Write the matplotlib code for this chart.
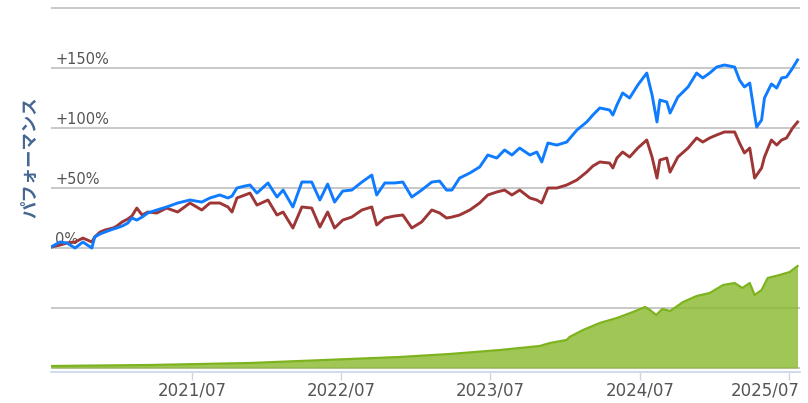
import matplotlib
matplotlib.use("Agg")
import matplotlib.pyplot as plt
import matplotlib.dates as mdates
import matplotlib.transforms as mtransforms
import pandas as pd

# dates / performance (%)
dates = [
    "2020-07-21", "2020-08-12", "2020-08-29", "2020-09-18", "2020-10-07", "2020-10-29",
    "2020-11-05", "2020-11-18", "2020-11-30", "2020-12-20", "2020-12-29", "2021-01-11",
    "2021-01-25", "2021-02-04", "2021-02-16", "2021-03-01", "2021-03-15", "2021-04-06",
    "2021-04-30", "2021-05-27", "2021-06-26", "2021-07-25", "2021-08-14", "2021-09-07",
    "2021-09-27", "2021-10-07", "2021-10-19", "2021-11-08", "2021-11-20", "2021-12-07",
    "2022-01-03", "2022-01-25", "2022-02-09", "2022-03-05", "2022-03-27", "2022-04-20",
    "2022-05-10", "2022-05-29", "2022-06-15", "2022-07-05", "2022-07-27", "2022-08-21",
    "2022-09-14", "2022-09-26", "2022-10-16", "2022-11-09", "2022-11-29", "2022-12-21",
    "2023-01-14", "2023-02-08", "2023-02-27", "2023-03-16", "2023-03-29", "2023-04-17",
    "2023-05-12", "2023-06-05", "2023-06-25", "2023-07-17", "2023-08-05", "2023-08-23",
    "2023-09-11", "2023-10-06", "2023-10-23", "2023-11-04", "2023-11-19", "2023-12-11",
    "2024-01-04", "2024-01-29", "2024-02-22", "2024-03-08", "2024-03-25", "2024-04-18",
    "2024-04-26", "2024-05-06", "2024-05-20", "2024-06-06", "2024-06-26", "2024-07-18",
    "2024-07-31", "2024-08-12", "2024-08-19", "2024-09-05", "2024-09-13", "2024-10-02",
    "2024-10-27", "2024-11-17", "2024-12-02", "2024-12-19", "2025-01-05", "2025-01-24",
    "2025-02-18", "2025-03-02", "2025-03-14", "2025-03-27", "2025-04-08", "2025-04-13",
    "2025-04-25", "2025-05-02", "2025-05-19", "2025-06-01", "2025-06-13", "2025-06-25",
    "2025-07-10", "2025-07-22",
]

blue = [
    0.8, 5.0, 4.2, 0.0, 5.0, 0.0,
    9.2, 11.7, 13.3, 15.8, 16.7, 18.3,
    20.8, 25.0, 23.3, 25.8, 29.2, 31.7,
    34.2, 37.5, 40.0, 38.3, 41.7, 44.2,
    41.7, 43.3, 50.0, 51.7, 52.5, 45.8,
    54.2, 42.5, 48.3, 34.2, 55.0, 55.0,
    40.0, 53.3, 38.3, 47.5, 48.3, 55.0,
    60.8, 44.2, 54.2, 54.2, 55.0, 42.5,
    48.3, 55.0, 55.8, 48.3, 48.3, 58.3,
    62.5, 67.5, 77.5, 75.0, 81.7, 77.5,
    83.3, 77.5, 80.0, 71.7, 87.5, 85.8,
    88.3, 98.3, 105.0, 110.8, 116.7, 115.0,
    110.8, 119.2, 129.2, 125.0, 135.8, 145.8,
    127.5, 105.0, 123.3, 121.7, 112.5, 125.8,
    134.2, 145.8, 141.7, 145.8, 150.8, 152.5,
    150.8, 140.0, 134.2, 137.5, 110.8, 100.8,
    106.7, 125.0, 136.7, 133.3, 141.7, 142.5,
    150.0, 156.7,
]

red = [
    0.8, 2.5, 4.2, 5.0, 8.3, 5.0,
    9.2, 13.3, 15.0, 16.7, 18.3, 21.7,
    24.2, 26.7, 33.3, 27.5, 30.0, 29.2,
    33.3, 30.0, 37.5, 31.7, 37.5, 37.5,
    34.2, 30.0, 41.7, 44.2, 45.8, 35.8,
    40.0, 27.5, 30.0, 16.7, 34.2, 33.3,
    17.5, 30.0, 16.7, 23.3, 25.8, 31.7,
    34.2, 19.2, 25.0, 26.7, 27.5, 16.7,
    21.7, 31.7, 29.2, 25.0, 25.8, 27.5,
    31.7, 37.5, 44.2, 46.7, 48.3, 44.2,
    48.3, 41.7, 40.0, 37.5, 50.0, 50.0,
    52.5, 56.7, 63.3, 68.3, 71.7, 70.8,
    66.7, 75.0, 80.0, 75.8, 83.3, 90.0,
    75.8, 58.3, 73.3, 75.0, 63.3, 75.8,
    83.3, 91.7, 88.3, 91.7, 94.2, 96.7,
    96.7, 87.5, 79.2, 83.3, 58.3, 60.8,
    66.7, 75.8, 90.0, 85.8, 90.0, 91.7,
    100.0, 105.0,
]

# green area (separate scale)
area_dates = [
    "2020-07-21", "2021-03-20", "2021-11-20", "2022-03-22", "2022-07-22", "2022-11-21",
    "2023-03-24", "2023-07-25", "2023-10-30", "2023-11-24", "2024-01-04", "2024-01-11",
    "2024-02-13", "2024-03-25", "2024-05-06", "2024-06-14", "2024-07-14", "2024-07-26",
    "2024-08-10", "2024-08-25", "2024-09-13", "2024-10-15", "2024-11-17", "2024-12-19",
    "2025-01-21", "2025-02-18", "2025-03-09", "2025-03-27", "2025-04-08", "2025-04-25",
    "2025-05-10", "2025-06-08", "2025-07-03", "2025-07-22",
]
area_vals = [
    2, 3, 5, 7, 9, 11,
    14, 18, 22, 25, 28, 31,
    38, 45, 50, 56, 61, 58,
    53, 59, 57, 66, 72, 75,
    83, 85, 80, 85, 73, 78,
    90, 93, 96, 102,
]

y_ticks = [-100, -50, 0, 50, 100, 150, 200]
y_labels = {0: "0%", 50: "+50%", 100: "+100%", 150: "+150%"}
x_ticks = ["2021-07-01", "2022-07-01", "2023-07-01", "2024-07-01", "2025-07-01"]

d = pd.to_datetime(dates)
ad = pd.to_datetime(area_dates)

fig = plt.figure(figsize=(8.08, 4.03), dpi=100)
ax = fig.add_axes([51 / 808, 31 / 403, 749 / 808, 370 / 403])
ax2 = ax.twinx()

ax.set_ylim(-103.3, 205)
ax2.set_ylim(-4, 366)
ax.set_xlim(pd.Timestamp("2020-07-21"), pd.Timestamp("2025-07-28"))

ax.set_yticks(y_ticks)
ax.yaxis.grid(True, color="#c4c4c4", linewidth=1.3)
ax.set_axisbelow(True)
ax.tick_params(axis="y", left=False, labelleft=False)
ax2.set_yticks([])

for s in ["top", "right", "left"]:
    ax.spines[s].set_visible(False)
    ax2.spines[s].set_visible(False)
ax.spines["bottom"].set_color("#c8d6e6")
ax.spines["bottom"].set_linewidth(1.2)
ax2.spines["bottom"].set_visible(False)

ax.set_xticks(pd.to_datetime(x_ticks))
ax.xaxis.set_major_formatter(mdates.DateFormatter("%Y/%m"))
ax.tick_params(axis="x", length=6, width=1, color="#c8d6e6", labelsize=12,
               labelcolor="#555555", pad=1)

# last label is pushed left so it stays inside the figure
last = ax.get_xticklabels()[-1]
last.set_horizontalalignment("right")
last.set_transform(last.get_transform() +
                   mtransforms.ScaledTranslation(11 / 100, 0, fig.dpi_scale_trans))

for v, lab in y_labels.items():
    ax.text(0.006, v + 1.2, lab, transform=ax.get_yaxis_transform(),
            ha="left", va="bottom", fontsize=10.5, color="#555555", zorder=1)

ax.plot(d, red, color="#9e3636", linewidth=2.1, zorder=3)
ax.plot(d, blue, color="#0f7cff", linewidth=2.1, zorder=4)

ax2.fill_between(ad, 0, area_vals, color="#88b92c", alpha=0.8, linewidth=0)
ax2.plot(ad, area_vals, color="#7db31e", linewidth=1.6)

fig.text(30 / 808, (403 - 157) / 403, "パフォーマンス", rotation=90, ha="center",
         va="center", fontsize=12.5, color="#456790", fontweight="bold",
         family=["Noto Sans CJK JP", "DejaVu Sans"])

fig.savefig("out.png", dpi=100)
